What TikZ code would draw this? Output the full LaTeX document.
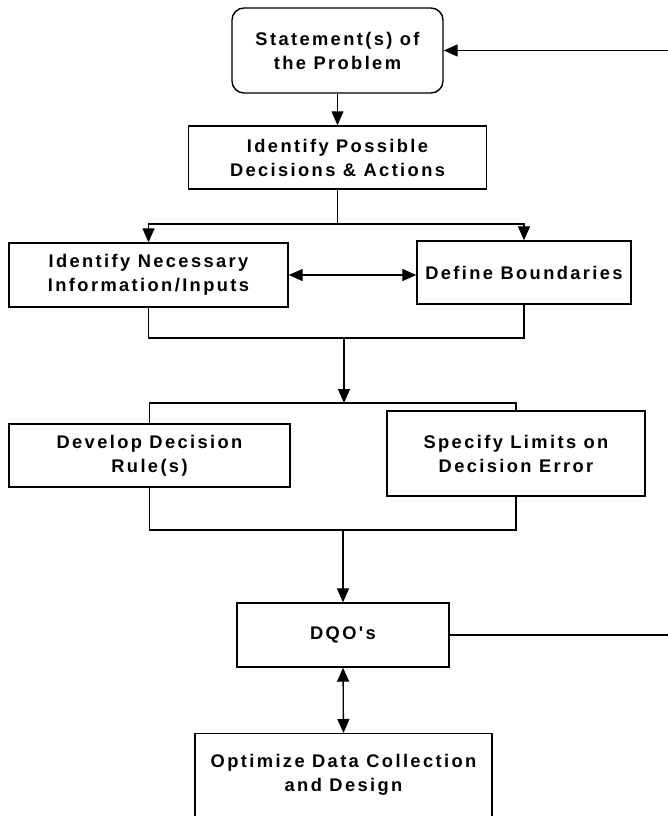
\documentclass[tikz,border=0pt]{standalone}
\usepackage{fontspec}
\newfontfamily\fsmall[LetterSpace=13]{Liberation Sans}
\usetikzlibrary{arrows.meta}
\begin{document}
\begin{tikzpicture}[x=1pt,y=-1pt,
  box/.style={draw, line width=1.4pt, inner sep=0pt, align=center},
  ta/.style={font=\fsmall\bfseries\fontsize{18.3}{24}\selectfont},
  conn/.style={line width=1.3pt},
  tip/.style={-{Triangle[length=14pt,width=12pt]}},
  dtip/.style={{Triangle[length=14pt,width=12pt]}-{Triangle[length=14pt,width=12pt]}}]
\useasboundingbox (0,0) rectangle (668,816);

\node[box, ta, rounded corners=12pt, minimum width=211pt, minimum height=85pt] (stmt) at (337.5,50.5) {Statement(s) of\\the Problem};
\node[box, ta, minimum width=298pt, minimum height=63pt] (poss) at (337.5,157.5) {Identify Possible\\Decisions \& Actions};
\node[box, ta, minimum width=279pt, minimum height=64pt] (need) at (148.5,275) {Identify Necessary\\Information/Inputs};
\node[box, ta, minimum width=214pt, minimum height=63pt] (bound) at (524,272.5) {Define Boundaries};
\node[box, ta, minimum width=281pt, minimum height=63pt] (rule) at (149.5,455.5) {Develop Decision\\Rule(s)};
\node[box, ta, minimum width=258pt, minimum height=85pt] (limit) at (516,453.5) {Specify Limits on\\Decision Error};
\node[box, ta, minimum width=212pt, minimum height=64pt] (dqo) at (343,635) {DQO's};
\node[box, minimum width=297pt, minimum height=120pt, anchor=north] (opt) at (343.5,733) {};
\node[ta, align=center, inner sep=0pt] (opttext) at (343.5,775) {Optimize Data Collection\\and Design};

% top
\draw[conn, tip] (stmt.south) -- (poss.north);
\coordinate (j1) at (337.5,224);
\draw[conn] (poss.south) -- (j1);
\draw[conn, tip] (j1) -| (need.north);
\draw[conn, tip] (j1) -| (bound.north);
\draw[conn, dtip] (need.east |- 0,275) -- (bound.west |- 0,275);

% merge 1
\coordinate (j2) at (344,338);
\draw[conn] (need.south) |- (j2);
\draw[conn] (bound.south) |- (j2);
\coordinate (j3) at (344,403);
\draw[conn, tip] (j2) -- (j3);
\draw[conn] (rule.north) |- (j3);
\draw[conn] (limit.north) |- (j3);

% merge 2
\coordinate (j4) at (343,530);
\draw[conn] (rule.south) |- (j4);
\draw[conn] (limit.south) |- (j4);
\draw[conn, tip] (j4) -- (dqo.north);
\draw[conn, dtip] (dqo.south) -- (opt.north);

% feedback
\coordinate (fb) at (668.5,635);
\draw[conn, tip] (dqo.east) -- (fb) |- (stmt.east);
\end{tikzpicture}
\end{document}
